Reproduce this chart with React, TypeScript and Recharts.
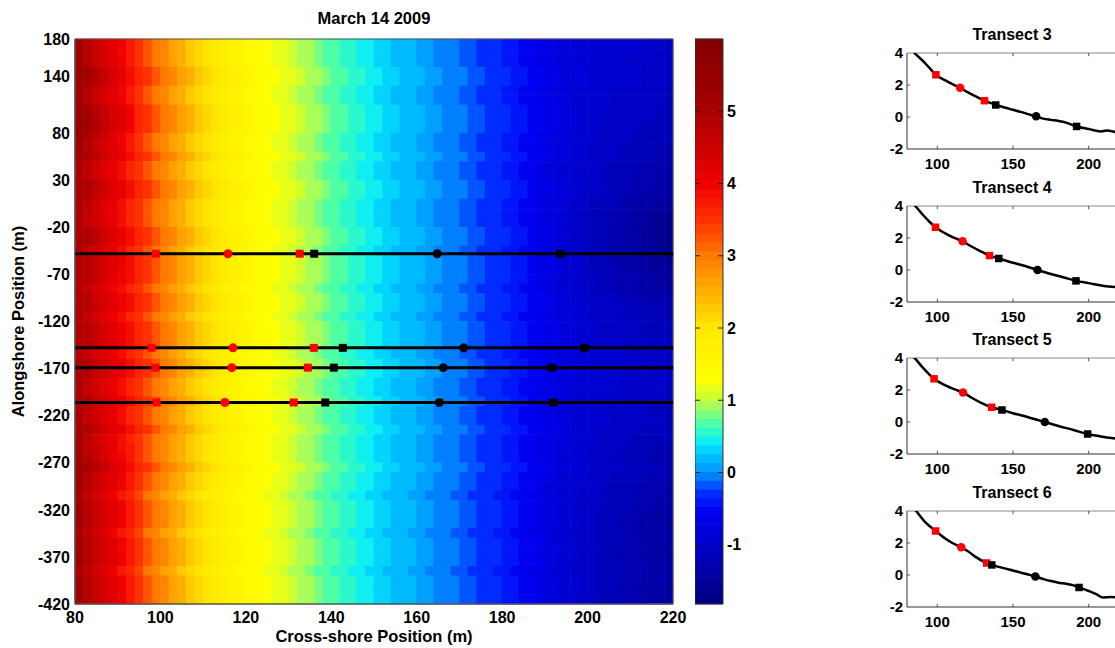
import React from 'react';
import { ComposedChart, Scatter, Line, XAxis, YAxis, ReferenceArea, ReferenceLine, Label } from 'recharts';

const FONT = '"Liberation Sans", Arial, Helvetica, sans-serif';

// elevation map grid: 2 m cross-shore columns from 80 m, 10 m alongshore rows down from 180 m
const GRID_X0 = 80;
const GRID_DX = 2;
const GRID_Y0 = 180;
const GRID_DY = 10;

// cross-shore elevation (m), one value per 2 m column, 80 -> 220 m
const profile = [
  4.9, 4.6, 4.4, 4.2, 4.05, 3.85, 3.65, 3.5, 3.3, 3.05,
  2.85, 2.65, 2.5, 2.3, 2.15, 2.0, 1.88, 1.78, 1.66, 1.55,
  1.46, 1.38, 1.3, 1.22, 1.14, 1.06, 0.97, 0.87, 0.79, 0.71,
  0.64, 0.57, 0.51, 0.46, 0.41, 0.36, 0.31, 0.25, 0.19, 0.14,
  0.09, 0.04, -0.01, -0.05, -0.1, -0.14, -0.19, -0.24, -0.29, -0.35,
  -0.41, -0.47, -0.53, -0.59, -0.65, -0.7, -0.75, -0.8, -0.85, -0.89,
  -0.92, -0.94, -0.96, -0.98, -1.0, -1.02, -1.04, -1.06, -1.08, -1.1,
];

// per alongshore row (180 -> -420 m): contour shift in columns, dune-side and offshore offsets
const rowShift = [
  0, 0, 0, 1, 1, 0, 0, 1, 1, 1,
  0, 0, 1, 0, 0, 1, 1, 0, 0, 0,
  1, 1, 0, 1, 1, 1, 0, 1, 1, 0,
  1, 1, 1, 0, 1, 1, 0, 0, 1, 0,
  0, 1, 0, 0, 0, 1, 0, 0, -1, 0,
  0, 0, -1, 0, 0, 0, -1, 0, 0, 0,
];
const rowNear = [
  0.3, 0.3, 0.3, 0.35, 0.3, 0.3, 0.35, 0.4, 0.4, 0.45,
  0.4, 0.35, 0.15, 0.1, 0.1, 0.1, 0.05, 0.1, 0.1, 0.05,
  0.1, 0.1, 0.05, 0.0, -0.05, -0.05, -0.05, -0.1, -0.05, -0.05,
  -0.05, 0.0, -0.05, 0.0, 0.05, 0.05, 0.1, 0.05, 0.05, 0.1,
  0.05, 0.1, 0.15, 0.2, 0.25, 0.3, 0.3, 0.3, 0.35, 0.3,
  0.3, 0.35, 0.35, 0.3, 0.3, 0.35, 0.4, 0.35, 0.3, 0.3,
];
const rowFar = [
  0.1, 0.1, 0.05, 0.05, 0.05, 0.0, 0.0, -0.05, -0.05, -0.1,
  -0.1, -0.15, -0.2, -0.25, -0.3, -0.3, -0.35, -0.45, -0.5, -0.55,
  -0.6, -0.6, -0.55, -0.55, -0.5, -0.45, -0.4, -0.25, -0.15, -0.15,
  -0.1, -0.1, 0.0, 0.05, 0.05, 0.0, 0.05, 0.0, 0.0, -0.05,
  0.0, -0.1, -0.1, -0.15, -0.2, -0.15, -0.2, -0.25, -0.25, -0.3,
  -0.35, -0.4, -0.35, -0.35, -0.4, -0.35, -0.3, -0.35, -0.4, -0.35,
];

// colour scale
const CLIM = [-1.82, 6.0];
const N_COLORS = 64;
const cmapLevels = [-1.82, -1.0, -0.55, -0.3, 0.0, 0.3, 0.45, 0.65, 0.9, 1.05, 1.3, 2.0, 2.5, 3.0, 3.5, 4.0, 5.0, 6.0];
const cmapColors = [
  '#000080', '#0000c8', '#0000f0', '#0028ff', '#0090ff', '#00d0ff', '#10f0f0', '#40ffb0', '#a0ff60',
  '#d0ff30', '#ffff00', '#ffe800', '#ffb000', '#ff7a00', '#ff3000', '#f00000', '#aa0000', '#800000',
];

const xTicks = [80, 100, 120, 140, 160, 180, 200, 220];
const yTicks = [180, 140, 80, 30, -20, -70, -120, -170, -220, -270, -320, -370, -420];
const cbarTicks = [-1, 0, 1, 2, 3, 4, 5];

// transects (3, 4, 5, 6)
const transectNames = ['Transect 3', 'Transect 4', 'Transect 5', 'Transect 6'];
const transectAlong = [-206, -169, -148, -48];
const markerKinds = ['rs', 'rc', 'rs', 'ks', 'kc', 'ks'];
const markerX = [
  [99.1, 115.1, 131.2, 138.6, 165.3, 192.0],
  [98.8, 116.7, 134.5, 140.6, 166.2, 191.6],
  [97.9, 117.0, 135.9, 142.7, 171.0, 199.3],
  [98.9, 115.8, 132.6, 136.0, 164.8, 193.6],
];
const markerZ = [
  [2.64, 1.83, 1.02, 0.75, 0.04, -0.59],
  [2.67, 1.8, 0.9, 0.72, 0.0, -0.68],
  [2.7, 1.85, 0.92, 0.75, 0.0, -0.75],
  [2.75, 1.73, 0.75, 0.63, -0.1, -0.78],
];
const profileX = [
  [80, 85, 90, 95, 99, 105, 110, 115, 120, 125, 131, 139, 145, 150, 155, 160, 165, 170, 175, 180, 185, 192, 200, 208, 212, 216, 220],
  [80, 85, 90, 95, 98.8, 105, 110, 116.7, 122, 128, 134.5, 140.6, 150, 158, 166.2, 175, 183, 191.6, 200, 210, 220],
  [80, 85, 90, 95, 97.9, 105, 111, 117, 123, 129, 135.9, 142.7, 150, 160, 171, 180, 190, 199.3, 208, 215, 220],
  [80, 86, 92, 98.9, 105, 110, 115.8, 120, 125, 132.6, 136, 145, 150, 155, 160, 164.8, 170, 175, 180, 185, 190, 193.6, 200, 205, 209, 215, 220],
];
const profileZ = [
  [4.6, 4.0, 3.55, 3.05, 2.64, 2.3, 2.05, 1.83, 1.55, 1.3, 1.02, 0.75, 0.58, 0.45, 0.32, 0.18, 0.04, -0.1, -0.18, -0.25, -0.35, -0.59, -0.75, -0.9, -0.85, -0.9, -1.0],
  [4.5, 4.05, 3.5, 3.0, 2.67, 2.3, 2.05, 1.8, 1.5, 1.2, 0.9, 0.72, 0.45, 0.25, 0.0, -0.25, -0.45, -0.68, -0.82, -1.0, -1.08],
  [4.5, 4.0, 3.45, 2.95, 2.7, 2.3, 2.05, 1.85, 1.5, 1.2, 0.92, 0.75, 0.55, 0.3, 0.0, -0.25, -0.5, -0.75, -0.9, -1.0, -1.05],
  [4.6, 4.0, 3.3, 2.75, 2.3, 2.0, 1.73, 1.5, 1.15, 0.75, 0.63, 0.4, 0.28, 0.15, 0.03, -0.1, -0.25, -0.38, -0.48, -0.55, -0.65, -0.78, -1.0, -1.2, -1.4, -1.38, -1.4],
];

// layout
const MAIN = { left: 75, top: 39, width: 598, height: 565 };
const CBAR = { left: 695, width: 28 };
const SUB = { left: 907, width: 210, height: 96, tops: [53, 206, 358, 511] };

const hexRgb = (h: string) => [1, 3, 5].map((k) => parseInt(h.slice(k, k + 2), 16));

const mixStops = (v: number) => {
  let k = 0;
  while (k < cmapLevels.length - 2 && v > cmapLevels[k + 1]) k++;
  const t = Math.max(0, Math.min(1, (v - cmapLevels[k]) / (cmapLevels[k + 1] - cmapLevels[k])));
  const a = hexRgb(cmapColors[k]);
  const b = hexRgb(cmapColors[k + 1]);
  const c = a.map((ai, n) => Math.round(ai + (b[n] - ai) * t));
  return `rgb(${c[0]},${c[1]},${c[2]})`;
};

const bandStep = (CLIM[1] - CLIM[0]) / N_COLORS;
const bands = Array.from({ length: N_COLORS }, (_, b) => ({
  x: 0.5,
  y: CLIM[0] + (b + 0.5) * bandStep,
  fill: mixStops(CLIM[0] + (b + 0.5) * bandStep),
}));

const colorAt = (v: number) => {
  const b = Math.floor((v - CLIM[0]) / bandStep);
  return bands[Math.max(0, Math.min(N_COLORS - 1, b))].fill;
};

const cells: { x: number; y: number; fill: string }[] = [];
rowShift.forEach((shift, j) => {
  profile.forEach((_, i) => {
    const src = Math.max(0, Math.min(profile.length - 1, i - shift));
    const xc = GRID_X0 + GRID_DX * (i + 0.5);
    const wNear = Math.max(0, (96 - xc) / 16);
    const wFar = Math.max(0, (xc - 188) / 32);
    const v = profile[src] + rowNear[j] * wNear + rowFar[j] * wFar;
    cells.push({ x: xc, y: GRID_Y0 - GRID_DY * (j + 0.5), fill: colorAt(v) });
  });
});

const cellW = (MAIN.width * GRID_DX) / (xTicks[xTicks.length - 1] - xTicks[0]);
const cellH = (MAIN.height * GRID_DY) / (yTicks[0] - yTicks[yTicks.length - 1]);
const bandH = MAIN.height / N_COLORS;

const HeatCell = (p: any) => (
  <rect
    x={p.cx - cellW / 2 - 0.3}
    y={p.cy - cellH / 2 - 0.3}
    width={cellW + 0.6}
    height={cellH + 0.6}
    fill={p.payload.fill}
  />
);

const BandCell = (p: any) => (
  <rect x={p.cx - CBAR.width / 2} y={p.cy - bandH / 2 - 0.3} width={CBAR.width} height={bandH + 0.6} fill={p.payload.fill} />
);

const Marker = (p: any) => {
  const { cx, cy, payload } = p;
  const color = payload.kind[0] === 'r' ? '#ff0000' : '#000000';
  const s = payload.size;
  if (payload.kind[1] === 's') return <rect x={cx - s / 2} y={cy - s / 2} width={s} height={s} fill={color} />;
  return <circle cx={cx} cy={cy} r={s / 2 + 0.5} fill={color} />;
};

const tickStyle = { fontSize: 16, fontWeight: 700, fill: '#000', fontFamily: FONT };
const subTick = { fontSize: 15, fontWeight: 700, fill: '#000', fontFamily: FONT };
const boxLine = { stroke: '#555', strokeWidth: 1 };

const mainMarkers = transectAlong.flatMap((y, t) =>
  markerX[t].map((x, i) => ({ x, y, kind: markerKinds[i], size: 8 }))
);

function MainMap() {
  return (
    <div style={{ position: 'absolute', left: 0, top: 0 }}>
      <ComposedChart width={700} height={648} margin={{ top: MAIN.top, right: 27, bottom: 0, left: 0 }}>
        <Scatter data={cells} shape={HeatCell} isAnimationActive={false} zIndex={50} />
        <ReferenceArea x1={80} x2={220} y1={-420} y2={180} fill="none" stroke="#555" strokeWidth={1} />
        {transectAlong.map((y) => (
          <Line
            key={y}
            data={[{ x: 80, y }, { x: 220, y }]}
            dataKey="y"
            stroke="#000"
            strokeWidth={3}
            dot={false}
            isAnimationActive={false}
          />
        ))}
        <Scatter data={mainMarkers} shape={Marker} isAnimationActive={false} />
        <XAxis
          type="number"
          dataKey="x"
          domain={[80, 220]}
          ticks={xTicks}
          interval={0}
          height={44}
          tickLine={false}
          tickSize={0}
          tickMargin={8}
          axisLine={boxLine}
          tick={tickStyle}
        >
          <Label value="Cross-shore Position (m)" position="insideBottom" offset={6} style={{ ...tickStyle, fontSize: 16.5 }} />
        </XAxis>
        <YAxis
          type="number"
          dataKey="y"
          domain={[-420, 180]}
          ticks={yTicks}
          interval={0}
          width={MAIN.left}
          tickLine={false}
          tickSize={0}
          tickMargin={5}
          axisLine={boxLine}
          tick={tickStyle}
        >
          <Label
            value="Alongshore Position (m)"
            angle={-90}
            position="insideLeft"
            offset={18}
            style={{ ...tickStyle, fontSize: 16.5, textAnchor: 'middle' }}
          />
        </YAxis>
      </ComposedChart>
      <div
        style={{
          position: 'absolute', left: MAIN.left, top: 9, width: MAIN.width, textAlign: 'center',
          fontSize: 16.5, fontWeight: 700, lineHeight: '18px',
        }}
      >
        March 14 2009
      </div>
    </div>
  );
}

function ColorBar() {
  return (
    <div style={{ position: 'absolute', left: CBAR.left, top: 0 }}>
      <ComposedChart width={CBAR.width + 40} height={648} margin={{ top: MAIN.top, right: 0, bottom: 648 - MAIN.top - MAIN.height, left: 0 }}>
        <Scatter data={bands} shape={BandCell} isAnimationActive={false} zIndex={50} />
        <ReferenceArea x1={0} x2={1} y1={CLIM[0]} y2={CLIM[1]} fill="none" stroke="#333" strokeWidth={1} />
        {cbarTicks.map((t) => (
          <ReferenceLine key={`l${t}`} segment={[{ x: 0, y: t }, { x: 0.18, y: t }]} stroke="#222" />
        ))}
        {cbarTicks.map((t) => (
          <ReferenceLine key={`r${t}`} segment={[{ x: 0.82, y: t }, { x: 1, y: t }]} stroke="#222" />
        ))}
        <XAxis type="number" dataKey="x" domain={[0, 1]} hide />
        <YAxis
          orientation="right"
          type="number"
          dataKey="y"
          domain={CLIM}
          ticks={cbarTicks}
          interval={0}
          width={40}
          tickLine={false}
          tickSize={0}
          tickMargin={4}
          axisLine={false}
          tick={tickStyle}
        />
      </ComposedChart>
    </div>
  );
}

function TransectPanel({ t }: { t: number }) {
  const top = SUB.tops[t];
  const line = profileX[t].map((x, i) => ({ x, y: profileZ[t][i] }));
  const marks = markerX[t].map((x, i) => ({ x, y: markerZ[t][i], kind: markerKinds[i], size: 7.5 }));
  return (
    <div style={{ position: 'absolute', left: SUB.left - 32, top: top - 20 }}>
      <div
        style={{
          position: 'absolute', left: 32, top: -7, width: SUB.width, textAlign: 'center',
          fontSize: 16, fontWeight: 700, lineHeight: '17px',
        }}
      >
        {transectNames[t]}
      </div>
      <ComposedChart width={32 + SUB.width + 2} height={20 + SUB.height + 28} margin={{ top: 20, right: 0, bottom: 0, left: 0 }}>
        <XAxis
          type="number"
          dataKey="x"
          domain={[80, 220]}
          ticks={[100, 150, 200]}
          interval={0}
          allowDataOverflow
          height={28}
          tickLine={false}
          tickSize={0}
          tickMargin={9}
          axisLine={{ stroke: '#333' }}
          tick={subTick}
        />
        <YAxis
          type="number"
          dataKey="y"
          domain={[-2, 4]}
          ticks={[-2, 0, 2, 4]}
          interval={0}
          allowDataOverflow
          width={32}
          tickLine={false}
          tickSize={0}
          tickMargin={4}
          axisLine={{ stroke: '#333' }}
          tick={subTick}
        />
        <ReferenceLine y={4} stroke="#888" />
        {[100, 150, 200].map((x) => (
          <ReferenceLine key={`t${x}`} segment={[{ x, y: 4 }, { x, y: 3.8 }]} stroke="#555" />
        ))}
        {[100, 150, 200].map((x) => (
          <ReferenceLine key={`b${x}`} segment={[{ x, y: -2 }, { x, y: -1.8 }]} stroke="#555" />
        ))}
        {[0, 2].map((y) => (
          <ReferenceLine key={`y${y}`} segment={[{ x: 80, y }, { x: 82, y }]} stroke="#555" />
        ))}
        <Line data={line} dataKey="y" type="monotone" stroke="#000" strokeWidth={2.5} dot={false} isAnimationActive={false} />
        <Scatter data={marks} shape={Marker} isAnimationActive={false} />
      </ComposedChart>
    </div>
  );
}

export default function App() {
  return (
    <div
      style={{
        position: 'absolute', left: 0, top: 0, width: 1115, height: 648, overflow: 'hidden',
        background: '#fff', fontFamily: FONT, color: '#000',
      }}
    >
      <MainMap />
      <ColorBar />
      {transectNames.map((_, t) => (
        <TransectPanel key={t} t={t} />
      ))}
    </div>
  );
}
